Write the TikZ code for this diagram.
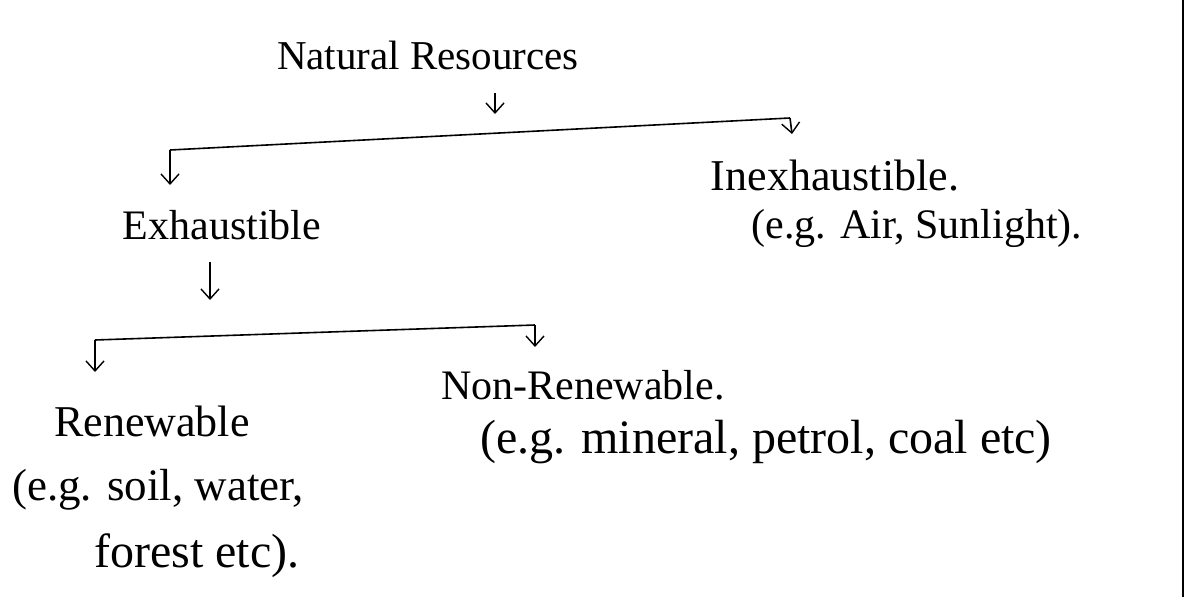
\documentclass[tikz,border=0pt]{standalone}
\usepackage{fontspec}
\setmainfont{Liberation Serif}
\usetikzlibrary{arrows.meta}
\newcommand{\fsz}[1]{\fontsize{#1}{#1}\selectfont}
\tikzset{
  lbl/.style={inner sep=0pt, font=\fsz{42}},
  arr/.style={line width=1.6pt, -{Straight Barb[length=10pt,width=18pt,line width=1.4pt]}},
  ln/.style={line width=1.6pt}
}
\begin{document}
\begin{tikzpicture}[x=1pt,y=-1pt]
\useasboundingbox (0,0) rectangle (1189,597);
% nodes
\node[lbl, font=\fsz{41}] (nr) at (428,55) {Natural Resources};
\node[lbl, font=\fsz{42}] (ex) at (222,225) {Exhaustible};
\node[lbl, font=\fsz{44}] (inex) at (835,176) {Inexhaustible.};
\node[lbl, font=\fsz{42}] (inexeg) at (917,228) {(e.g. Air, Sunlight).};
\node[lbl, font=\fsz{44}] (ren) at (152,421) {Renewable};
\node[lbl, font=\fsz{45}] (reneg1) at (158,490) {(e.g. soil, water,};
\node[lbl, font=\fsz{48}] (reneg2) at (197,556) {forest etc).};
\node[lbl, font=\fsz{42}] (non) at (583,385) {Non-Renewable.};
\node[lbl, font=\fsz{48}] (noneg) at (766,442) {(e.g. mineral, petrol, coal etc)};
% coordinates
\coordinate (a1) at (495,93);
\coordinate (l1) at (170,150);
\coordinate (r1) at (790,118);
\coordinate (b1) at (210,262);
\coordinate (l2) at (95,340);
\coordinate (r2) at (535,325);
% connectors
\draw[arr] (a1) -- ++(0,21);
\draw[ln] (l1) -- (r1);
\draw[arr] (l1) -- ++(0,35);
\draw[arr] (r1) -- ++(2,16);
\draw[arr] (b1) -- ++(0,38);
\draw[ln] (l2) -- (r2);
\draw[arr] (l2) -- ++(0,32);
\draw[arr] (r2) -- ++(0,22);
% right border
\draw[line width=1.6pt] (1183,0) -- (1183,597);
\end{tikzpicture}
\end{document}
